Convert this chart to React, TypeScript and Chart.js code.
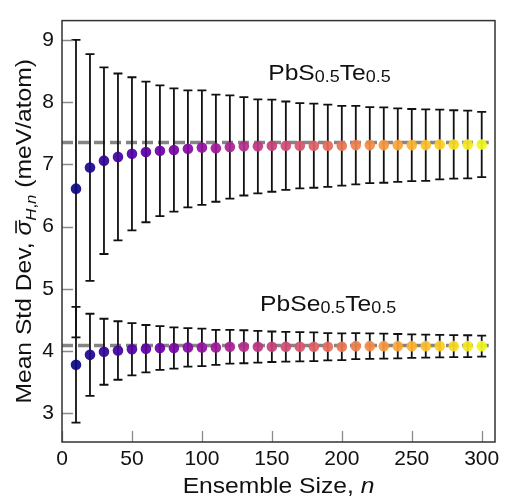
import React, { useEffect, useRef } from "react";
import { Chart, registerables } from "chart.js";

Chart.register(...registerables);

// ---------------- data ----------------
const ensembleSizes = [10, 20, 30, 40, 50, 60, 70, 80, 90, 100, 110, 120, 130, 140, 150, 160, 170, 180, 190, 200, 210, 220, 230, 240, 250, 260, 270, 280, 290, 300];

const pbsTeMean = [6.61, 6.95, 7.06, 7.12, 7.17, 7.2, 7.22, 7.23, 7.25, 7.27, 7.26, 7.28, 7.29, 7.29, 7.3, 7.3, 7.3, 7.3, 7.3, 7.3, 7.31, 7.31, 7.31, 7.31, 7.31, 7.31, 7.32, 7.32, 7.32, 7.32];
const pbsTeErr = [2.39, 1.82, 1.5, 1.34, 1.23, 1.13, 1.05, 0.99, 0.94, 0.92, 0.86, 0.83, 0.79, 0.755, 0.74, 0.71, 0.685, 0.675, 0.66, 0.64, 0.63, 0.61, 0.605, 0.59, 0.58, 0.575, 0.56, 0.55, 0.545, 0.525];

const pbseTeMean = [3.78, 3.94, 3.99, 4.01, 4.03, 4.04, 4.05, 4.05, 4.06, 4.06, 4.06, 4.07, 4.07, 4.07, 4.07, 4.07, 4.07, 4.07, 4.07, 4.07, 4.08, 4.08, 4.08, 4.08, 4.08, 4.08, 4.08, 4.08, 4.08, 4.08];
const pbseTeErr = [0.93, 0.66, 0.53, 0.47, 0.42, 0.38, 0.35, 0.33, 0.31, 0.3, 0.28, 0.27, 0.265, 0.255, 0.245, 0.24, 0.235, 0.23, 0.22, 0.215, 0.21, 0.205, 0.2, 0.195, 0.19, 0.185, 0.18, 0.178, 0.175, 0.17];

const pbsTeConverged = 7.35;
const pbseTeConverged = 4.09;
const referenceSpan = [0, 305];

const xTickValues = [0, 50, 100, 150, 200, 250, 300];
const yTickValues = [3, 4, 5, 6, 7, 8, 9];
const xLimits = [0, 309.5];
const yLimits = [2.54, 9.31];

// label anchors (data units: left edge, baseline)
const pbsTeLabelAnchor = { x: 147.4, y: 8.35 };
const pbseTeLabelAnchor = { x: 141.6, y: 4.65 };

// ---------------- styling helpers ----------------
const FONT = '"Liberation Sans", Arial, Helvetica, sans-serif';
const TEXT_STRETCH = 1.12;

const plasmaStops = ["#0d0887", "#41049d", "#6a00a8", "#8f0da4", "#b12a90", "#cc4778", "#e16462", "#f2844b", "#fca636", "#fcce25", "#f0f921"];

function hexToRgb(h: string) {
  const v = parseInt(h.slice(1), 16);
  return [(v >> 16) & 255, (v >> 8) & 255, v & 255];
}
function plasma(t: number) {
  const p = Math.max(0, Math.min(1, t)) * (plasmaStops.length - 1);
  const i = Math.min(Math.floor(p), plasmaStops.length - 2);
  const f = p - i;
  const a = hexToRgb(plasmaStops[i]);
  const b = hexToRgb(plasmaStops[i + 1]);
  const c = a.map((v, k) => Math.round(v + (b[k] - v) * f));
  return `rgba(${c[0]},${c[1]},${c[2]},0.93)`;
}
const pointColors = ensembleSizes.map((_, i) => plasma(i / (ensembleSizes.length - 1)));

type Seg = { t: string; size: number; italic?: boolean; dy?: number; bar?: boolean };

function drawRich(ctx: CanvasRenderingContext2D, segs: Seg[], x: number, y: number, align: "left" | "center") {
  ctx.save();
  ctx.textBaseline = "alphabetic";
  ctx.textAlign = "left";
  ctx.fillStyle = "#111";
  const fontOf = (s: Seg) => `${s.italic ? "italic " : ""}${s.size}px ${FONT}`;
  const widths = segs.map((s) => {
    ctx.font = fontOf(s);
    return ctx.measureText(s.t).width;
  });
  const total = widths.reduce((a, b) => a + b, 0);
  ctx.translate(x, y);
  ctx.scale(TEXT_STRETCH, 1);
  let cx = align === "center" ? -total / 2 : 0;
  segs.forEach((s, i) => {
    ctx.font = fontOf(s);
    ctx.fillText(s.t, cx, s.dy || 0);
    if (s.bar) {
      ctx.strokeStyle = "#111";
      ctx.lineWidth = 1.6;
      ctx.beginPath();
      const by = (s.dy || 0) - s.size * 0.68;
      ctx.moveTo(cx + 2, by);
      ctx.lineTo(cx + widths[i], by);
      ctx.stroke();
    }
    cx += widths[i];
  });
  ctx.restore();
}

const errorBarPlugin = {
  id: "errorBars",
  beforeDatasetDraw(chart: any, args: any) {
    const ds = chart.data.datasets[args.index];
    if (!ds.errors) return;
    const { ctx, scales } = chart;
    const xs = scales.x;
    const ys = scales.y;
    ctx.save();
    ctx.strokeStyle = "#111";
    ctx.lineWidth = 1.8;
    ds.data.forEach((p: any, i: number) => {
      const e = ds.errors[i];
      const px = xs.getPixelForValue(p.x);
      const top = ys.getPixelForValue(p.y + e);
      const bot = ys.getPixelForValue(p.y - e);
      ctx.beginPath();
      ctx.moveTo(px, top);
      ctx.lineTo(px, bot);
      ctx.moveTo(px - 4.5, top);
      ctx.lineTo(px + 4.5, top);
      ctx.moveTo(px - 4.5, bot);
      ctx.lineTo(px + 4.5, bot);
      ctx.stroke();
    });
    ctx.restore();
  },
};

const decorPlugin = {
  id: "decor",
  afterDraw(chart: any) {
    const { ctx, chartArea: a, scales } = chart;
    const xs = scales.x;
    const ys = scales.y;
    ctx.save();
    // inner tick marks
    ctx.strokeStyle = "#8a8a8a";
    ctx.lineWidth = 1.3;
    ctx.beginPath();
    xTickValues.forEach((v) => {
      const px = Math.round(xs.getPixelForValue(v)) + 0.5;
      ctx.moveTo(px, a.bottom);
      ctx.lineTo(px, a.bottom - 11);
    });
    yTickValues.forEach((v) => {
      const py = Math.round(ys.getPixelForValue(v)) + 0.5;
      ctx.moveTo(a.left, py);
      ctx.lineTo(a.left + 11, py);
    });
    ctx.stroke();
    // frame
    ctx.strokeStyle = "#333";
    ctx.lineWidth = 1.5;
    ctx.strokeRect(a.left, a.top, a.right - a.left, a.bottom - a.top);
    ctx.restore();

    // compound labels
    drawRich(
      ctx,
      [
        { t: "PbS", size: 22 },
        { t: "0.5", size: 16, dy: 2 },
        { t: "Te", size: 22 },
        { t: "0.5", size: 16, dy: 2 },
      ],
      xs.getPixelForValue(pbsTeLabelAnchor.x),
      ys.getPixelForValue(pbsTeLabelAnchor.y),
      "left"
    );
    drawRich(
      ctx,
      [
        { t: "PbSe", size: 22 },
        { t: "0.5", size: 16, dy: 2 },
        { t: "Te", size: 22 },
        { t: "0.5", size: 16, dy: 2 },
      ],
      xs.getPixelForValue(pbseTeLabelAnchor.x),
      ys.getPixelForValue(pbseTeLabelAnchor.y),
      "left"
    );

    // x title
    drawRich(
      ctx,
      [
        { t: "Ensemble Size, ", size: 22 },
        { t: "n", size: 22, italic: true },
      ],
      (a.left + a.right) / 2,
      493,
      "center"
    );

    // y title
    ctx.save();
    ctx.translate(31, (a.top + a.bottom) / 2);
    ctx.rotate(-Math.PI / 2);
    drawRich(
      ctx,
      [
        { t: "Mean Std Dev, ", size: 22 },
        { t: "σ", size: 22, italic: true, bar: true },
        { t: "H", size: 15, italic: true, dy: 5 },
        { t: ",", size: 15, dy: 5 },
        { t: "n", size: 15, italic: true, dy: 5 },
        { t: " (meV/atom)", size: 22 },
      ],
      0,
      0,
      "center"
    );
    ctx.restore();
  },
};

export default function App() {
  const ref = useRef<HTMLCanvasElement | null>(null);

  useEffect(() => {
    if (!ref.current) return;
    const chart = new Chart(ref.current, {
      type: "scatter",
      data: {
        datasets: [
          {
            type: "line",
            data: referenceSpan.map((x) => ({ x, y: pbsTeConverged })),
            borderColor: "rgba(125,125,125,0.95)",
            borderWidth: 3.5,
            borderDash: [11, 5],
            pointRadius: 0,
            order: 5,
          } as any,
          {
            type: "line",
            data: referenceSpan.map((x) => ({ x, y: pbseTeConverged })),
            borderColor: "rgba(125,125,125,0.95)",
            borderWidth: 3.5,
            borderDash: [11, 5],
            pointRadius: 0,
            order: 5,
          } as any,
          {
            type: "scatter",
            data: ensembleSizes.map((x, i) => ({ x, y: pbsTeMean[i] })),
            errors: pbsTeErr,
            pointBackgroundColor: pointColors,
            pointBorderWidth: 0,
            pointRadius: 5.3,
            order: 1,
          } as any,
          {
            type: "scatter",
            data: ensembleSizes.map((x, i) => ({ x, y: pbseTeMean[i] })),
            errors: pbseTeErr,
            pointBackgroundColor: pointColors,
            pointBorderWidth: 0,
            pointRadius: 5.3,
            order: 1,
          } as any,
        ],
      },
      options: {
        animation: false,
        responsive: false,
        layout: { padding: { top: 9, right: 11, left: 0, bottom: 0 } },
        plugins: { legend: { display: false }, tooltip: { enabled: false } },
        scales: {
          x: {
            type: "linear",
            min: xLimits[0],
            max: xLimits[1],
            grid: { display: false, drawTicks: false },
            border: { display: false },
            ticks: { font: { family: FONT, size: 21 }, color: "#111", padding: 5, maxRotation: 0, autoSkip: false },
            afterBuildTicks: (s: any) => {
              s.ticks = xTickValues.map((v) => ({ value: v }));
            },
            afterFit: (s: any) => {
              s.height = 56;
            },
          },
          y: {
            type: "linear",
            min: yLimits[0],
            max: yLimits[1],
            grid: { display: false, drawTicks: false },
            border: { display: false },
            ticks: { font: { family: FONT, size: 21 }, color: "#111", padding: 8, autoSkip: false },
            afterBuildTicks: (s: any) => {
              s.ticks = yTickValues.map((v) => ({ value: v }));
            },
            afterFit: (s: any) => {
              s.width = 62;
            },
          },
        },
      },
      plugins: [errorBarPlugin, decorPlugin],
    });
    return () => chart.destroy();
  }, []);

  return (
    <div style={{ position: "fixed", left: 0, top: 0, width: 506, height: 498, background: "#fff" }}>
      <canvas ref={ref} width={506} height={498} style={{ display: "block" }} />
    </div>
  );
}
